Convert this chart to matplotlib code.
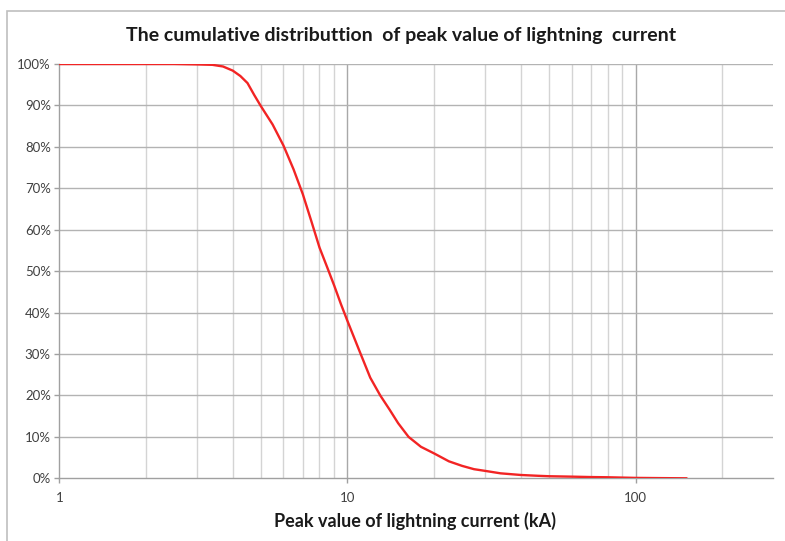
import matplotlib
matplotlib.use("Agg")
import matplotlib.pyplot as plt
from matplotlib.patches import Rectangle
from matplotlib.ticker import FixedLocator, FuncFormatter, NullFormatter

# Data
current_kA = [1, 2, 2.5, 3, 3.4, 3.7, 4, 4.25, 4.5, 4.75, 5, 5.5, 6, 6.5, 7, 7.5,
              8, 8.5, 9, 9.5, 10, 11, 12, 13, 14, 15, 16.3, 18, 20, 22.5, 25,
              27.5, 30, 34, 40, 46, 50, 60, 70, 80, 100, 120, 150]
cum_pct = [100, 100, 100, 99.9, 99.8, 99.4, 98.4, 97.1, 95.4, 92.5, 89.9, 85.4,
           80.3, 74.6, 68.6, 62.0, 55.7, 51.0, 46.5, 42.0, 38.0, 30.8, 24.3, 20.0,
           16.6, 13.3, 10.0, 7.6, 6.0, 4.1, 3.0, 2.2, 1.8, 1.2, 0.8, 0.6, 0.5,
           0.4, 0.3, 0.25, 0.1, 0.05, 0.0]
x_major = [1, 10, 100]
y_ticks = [0, 10, 20, 30, 40, 50, 60, 70, 80, 90, 100]
title = "The cumulative distributtion  of peak value of lightning  current"
xlabel = "Peak value of lightning current (kA)"

font = ["Lato", "DejaVu Sans"]
plt.rcParams["font.family"] = font

W, H = 785, 541
fig = plt.figure(figsize=(W / 100, H / 100), dpi=100)
fig.patch.set_facecolor("white")

# chart-area border (Excel style)
fig.patches.append(Rectangle((7 / W, -0.1), 1.2, (H - 11) / H + 0.1,
                             transform=fig.transFigure, fill=False,
                             edgecolor="#bfbfbf", linewidth=1.2))

ax = fig.add_axes([59.3 / W, (H - 478.3) / H, (773 - 59.3) / W, (478.3 - 64) / H])
ax.set_xscale("log")
ax.set_xlim(1, 300)
ax.set_ylim(0, 100)

# grid lines
minor_x = [m * d for d in (1, 10, 100) for m in range(2, 10) if m * d < 300]
for xv in minor_x:
    ax.axvline(xv, color="#d4d4d4", lw=1.0, zorder=1)
for xv in x_major[1:]:
    ax.axvline(xv, color="#a8a8a8", lw=1.0, zorder=1)
for yv in y_ticks[1:]:
    ax.axhline(yv, color="#b3b3b3", lw=1.0, zorder=1)

ax.plot(current_kA, cum_pct, color="#f22424", lw=1.7, zorder=3,
        solid_joinstyle="round")

for s in ["top", "right"]:
    ax.spines[s].set_visible(False)
for s in ["left", "bottom"]:
    ax.spines[s].set_color("#a0a0a0")
    ax.spines[s].set_linewidth(1.0)

ax.xaxis.set_major_locator(FixedLocator(x_major))
ax.xaxis.set_major_formatter(FuncFormatter(lambda v, p: f"{v:g}"))
ax.xaxis.set_minor_locator(FixedLocator([]))
ax.xaxis.set_minor_formatter(NullFormatter())
ax.yaxis.set_major_locator(FixedLocator(y_ticks))
ax.yaxis.set_major_formatter(FuncFormatter(lambda v, p: f"{int(v)}%"))
ax.tick_params(axis="both", which="major", length=3.6, width=1.0, color="#a0a0a0",
               labelsize=9.5, labelcolor="#404040", pad=2.5)
ax.tick_params(axis="x", pad=6)

fig.text(401 / W, 1 - 35 / H, title, ha="center", va="center",
         fontsize=14, fontweight="bold", color="#1a1a1a")
fig.text(415 / W, 1 - 521 / H, xlabel, ha="center", va="center",
         fontsize=13, fontweight="bold", color="#1a1a1a")

fig.savefig("out.png", dpi=100)
